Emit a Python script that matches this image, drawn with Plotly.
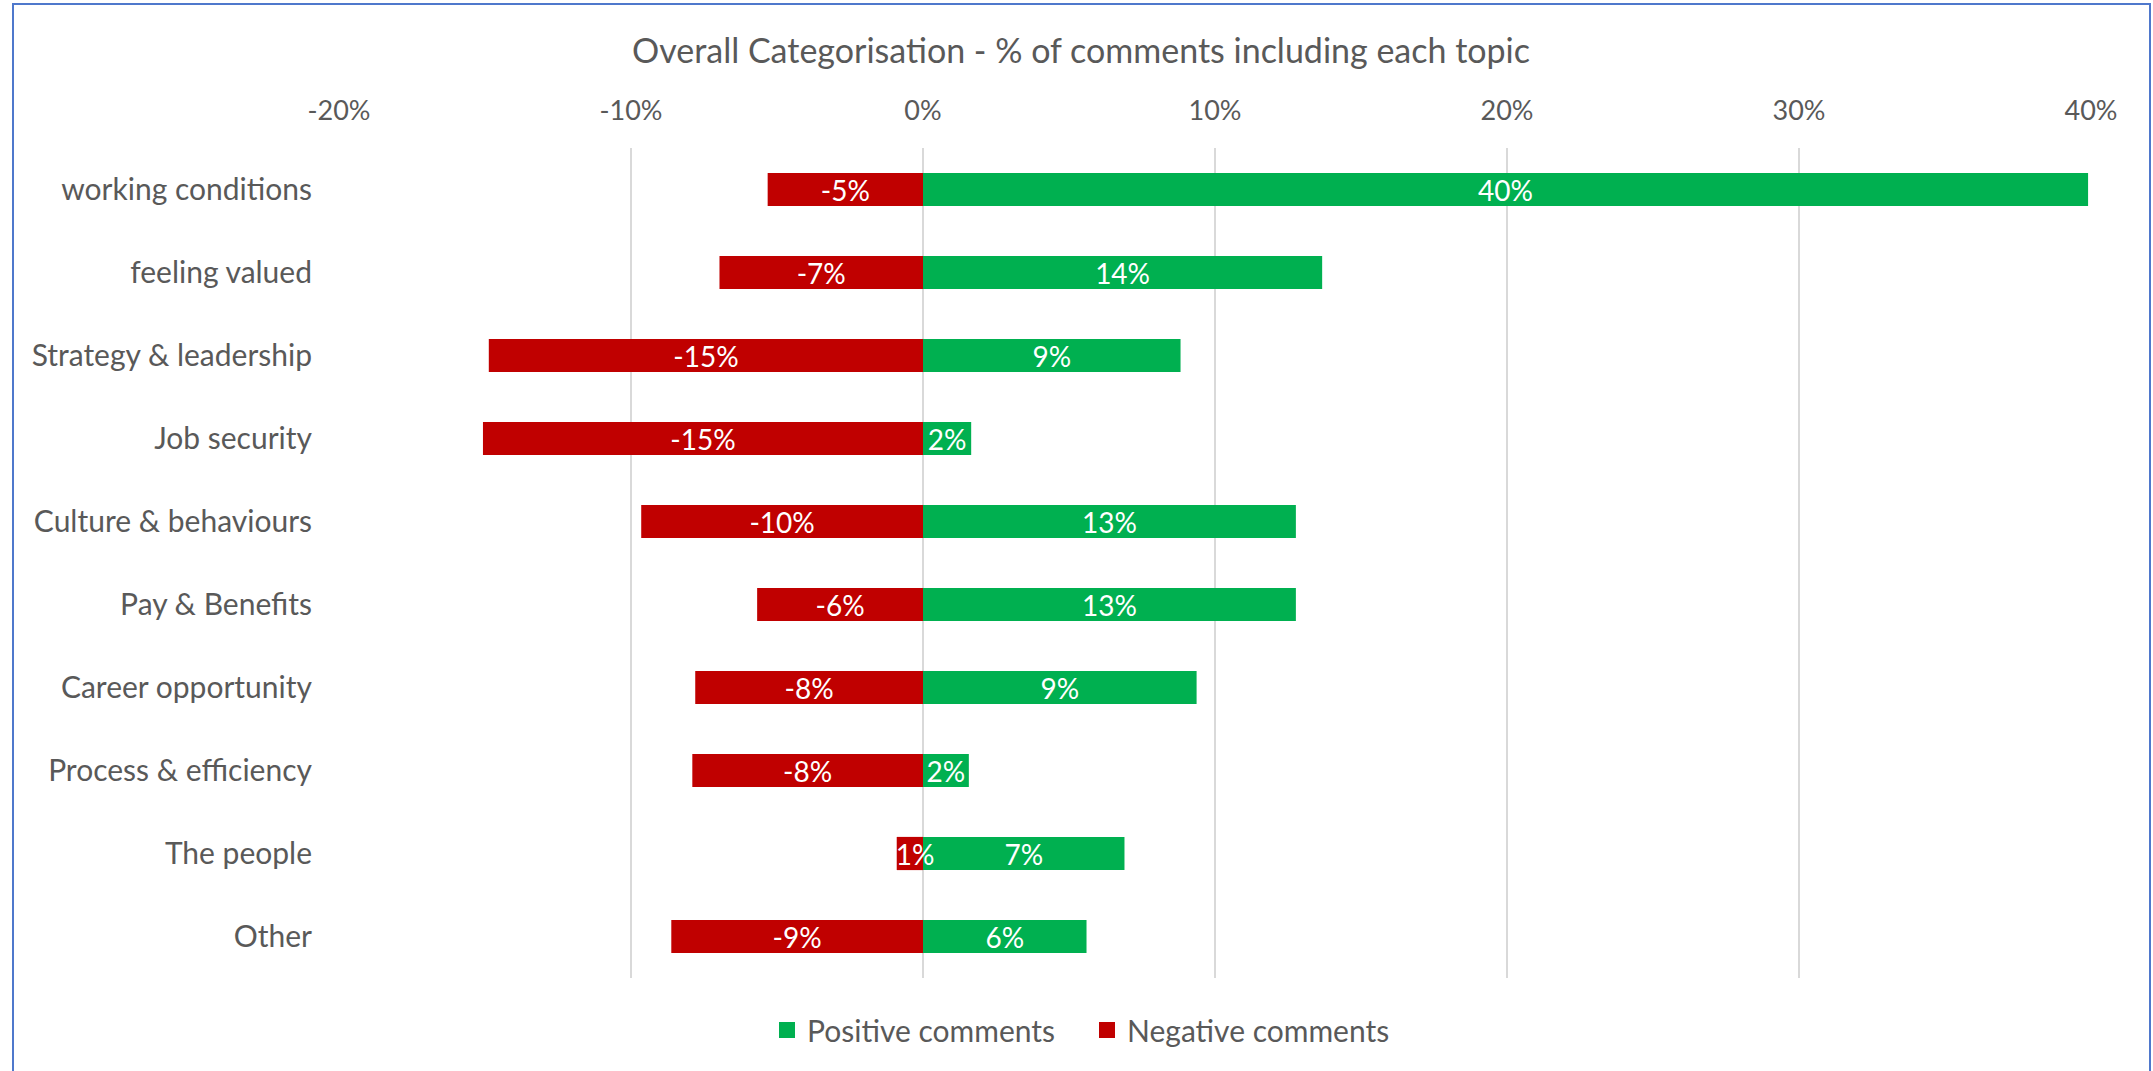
import plotly.graph_objects as go

categories = ["working conditions", "feeling valued", "Strategy & leadership", "Job security",
              "Culture & behaviours", "Pay & Benefits", "Career opportunity",
              "Process & efficiency", "The people", "Other"]
positive = [39.9, 13.67, 8.82, 1.65, 12.77, 12.77, 9.37, 1.57, 6.9, 5.6]
negative = [-5.32, -6.97, -14.87, -15.07, -9.65, -5.68, -7.8, -7.9, -0.9, -8.62]
tick_values = [-20, -10, 0, 10, 20, 30, 40]
tick_labels = ["-20%", "-10%", "0%", "10%", "20%", "30%", "40%"]
series_names = ["Positive comments", "Negative comments"]
title_text = "Overall Categorisation - % of comments including each topic"

W, H = 2153, 1071
L, R, T, B = 339, 62, 148, 93
FONT = "Lato, Calibri, Carlito, sans-serif"
GRAY = "#595959"
GREEN = "#00B050"
RED = "#C00000"
LABEL_SIZE = 28

fig = go.Figure()
for vals, name, col in [(positive, series_names[0], GREEN), (negative, series_names[1], RED)]:
    fig.add_trace(go.Bar(
        y=categories, x=vals, orientation="h", name=name, showlegend=False,
        marker=dict(color=col, line=dict(width=0)),
        texttemplate="%{x:.0f}%", textposition="inside", insidetextanchor="middle",
        textangle=0, constraintext="none",
        textfont=dict(color="white", size=LABEL_SIZE, family=FONT), cliponaxis=False,
    ))
# legend entries (square swatches)
for name, col in [(series_names[0], GREEN), (series_names[1], RED)]:
    fig.add_trace(go.Scatter(
        x=[None], y=[None], mode="markers", name=name,
        marker=dict(symbol="square", size=18, color=col), showlegend=True,
    ))

pw = W - L - R
ph = H - T - B
def px_x(p):
    return (p - L) / pw
def px_y(p):
    return (H - B - p) / ph

fig.add_shape(type="rect", xref="paper", yref="paper",
              x0=px_x(13), x1=px_x(2150), y0=px_y(1090), y1=px_y(4),
              line=dict(color="#4F78CC", width=2), layer="below")

fig.update_layout(
    width=W, height=H,
    margin=dict(l=L, r=R, t=T, b=B, pad=0),
    paper_bgcolor="white", plot_bgcolor="white",
    barmode="relative", bargap=0.6,
    font=dict(family=FONT, color=GRAY, size=29),
    title=dict(text=title_text, x=1081 / W, xref="container", xanchor="center",
               y=1 - 51 / H, yref="container", yanchor="middle",
               font=dict(size=34, color=GRAY, family=FONT)),
    uniformtext=dict(minsize=LABEL_SIZE, mode="show"),
    showlegend=True,
    legend=dict(orientation="h", x=px_x(1087), xanchor="center",
                y=px_y(1030), yanchor="middle", traceorder="normal",
                font=dict(size=30, color=GRAY, family=FONT),
                itemsizing="trace", entrywidth=275, bgcolor="rgba(0,0,0,0)"),
    xaxis=dict(range=[-20, 40], side="top", tickvals=tick_values, ticktext=tick_labels,
               showgrid=True, gridcolor="#D9D9D9", gridwidth=2,
               zeroline=True, zerolinecolor="#D9D9D9", zerolinewidth=2,
               showline=False, ticks="", ticklabelstandoff=22,
               tickfont=dict(size=27, color=GRAY, family=FONT), fixedrange=True),
    yaxis=dict(categoryorder="array", categoryarray=categories, autorange="reversed",
               showgrid=False, zeroline=False, showline=False, ticks="",
               ticklabelstandoff=26,
               tickfont=dict(size=30, color=GRAY, family=FONT), fixedrange=True),
)

fig.write_html("out.html", config={"displayModeBar": False},
               post_script="document.body.style.margin='0';document.body.style.overflow='hidden';")
